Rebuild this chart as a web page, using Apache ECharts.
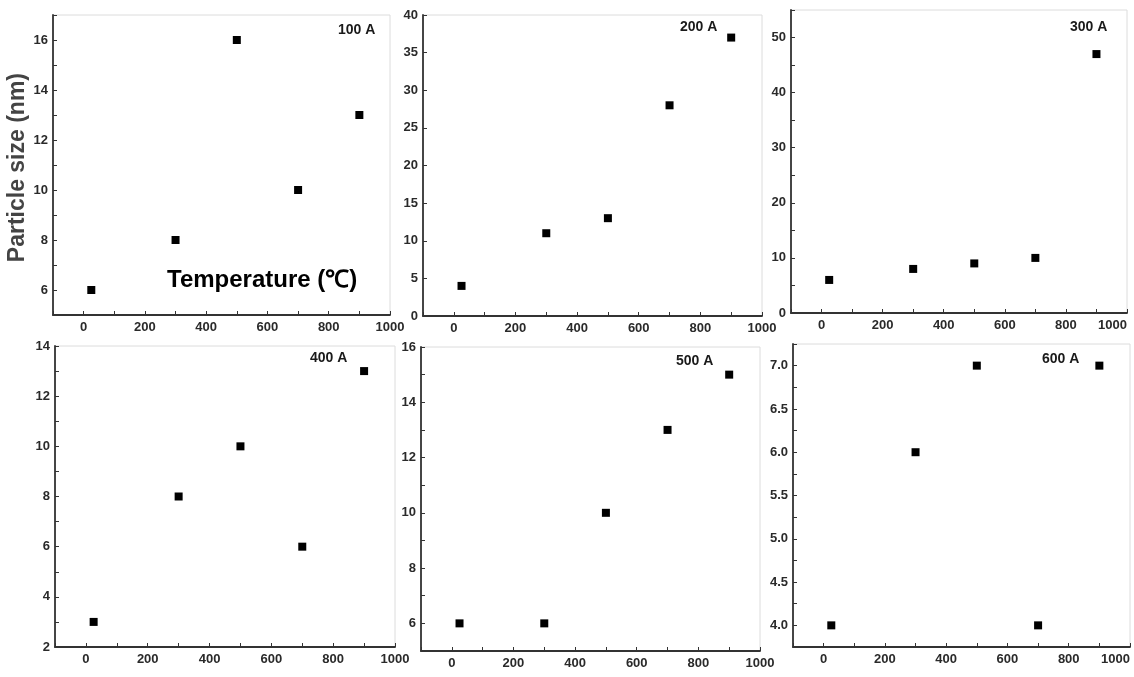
<!DOCTYPE html>
<html>
<head>
<meta charset="utf-8">
<script src="https://cdn.jsdelivr.net/npm/echarts@6/dist/echarts.min.js"></script>
<style>
  html, body { margin: 0; padding: 0; background: #fff; }
  #chart { width: 1134px; height: 677px; }
</style>
</head>
<body>
<div id="chart"></div>
<script>
// temperatures (°C) shared by all panels
var temps = [25, 300, 500, 700, 900];
// particle size (nm) for each arc current
var size100 = [6, 8, 16, 10, 13];
var size200 = [4, 11, 13, 28, 37];
var size300 = [6, 8, 9, 10, 47];
var size400 = [3, 8, 10, 6, 13];
var size500 = [6, 6, 10, 13, 15];
var size600 = [4, 6, 7, 4, 7];
var panelNames = ['100 A', '200 A', '300 A', '400 A', '500 A', '600 A'];

var chart = echarts.init(document.getElementById('chart'), null, { renderer: 'canvas' });

// layout of each panel (pixel boxes), its y axis and where its name sits
var panels = [
  { data: size100, box: [53, 15, 337, 300], tag: [338, 23], y: { min: 5, max: 17, interval: 1, base: 6, step: 2, digits: 0 } },
  { data: size200, box: [423, 15, 339, 301], tag: [680, 20], y: { min: 0, max: 40, interval: 5, base: 0, step: 5, digits: 0 } },
  { data: size300, box: [791, 10, 336, 303], tag: [1070, 20], edge: true, y: { min: 0, max: 55, interval: 5, base: 0, step: 10, digits: 0 } },
  { data: size400, box: [55, 346, 340, 301], tag: [310, 351], y: { min: 2, max: 14, interval: 1, base: 2, step: 2, digits: 0 } },
  { data: size500, box: [421, 347, 339, 304], tag: [676, 354], y: { min: 5, max: 16, interval: 1, base: 6, step: 2, digits: 0 } },
  { data: size600, box: [793, 344, 337, 303], tag: [1042, 352], edge: true, y: { min: 3.75, max: 7.25, interval: 0.25, base: 4, step: 0.5, digits: 1 } }
];

var axisColor = '#333';
var labelStyle = { color: '#2a2a2a', fontFamily: 'Liberation Sans', fontWeight: 'bold', fontSize: 13 };

var grids = [], xAxes = [], yAxes = [], series = [], graphics = [];

panels.forEach(function (p, i) {
  grids.push({
    left: p.box[0], top: p.box[1], width: p.box[2], height: p.box[3],
    containLabel: false, outerBoundsMode: 'none',
    show: true, borderColor: '#dcdcdc', borderWidth: 1, backgroundColor: 'transparent'
  });
  var xLabel = Object.assign({
    margin: 6, interval: 0, showMinLabel: true, showMaxLabel: true, hideOverlap: false,
    formatter: function (v) { return (v >= 0 && v % 200 === 0) ? String(v) : ''; }
  }, labelStyle);
  if (p.edge) xLabel.alignMaxLabel = 'right';
  xAxes.push({
    gridIndex: i, type: 'value', min: -100, max: 1000, interval: 100,
    splitLine: { show: false },
    axisLine: { onZero: false, lineStyle: { color: axisColor, width: 1.8 } },
    axisTick: { inside: true, length: 4, lineStyle: { color: axisColor } },
    axisLabel: xLabel
  });
  var ya = p.y;
  yAxes.push({
    gridIndex: i, type: 'value', min: ya.min, max: ya.max, interval: ya.interval,
    splitLine: { show: false },
    axisLine: { onZero: false, lineStyle: { color: axisColor, width: 1.8 } },
    axisTick: { inside: true, length: 4, lineStyle: { color: axisColor } },
    axisLabel: Object.assign({
      margin: 5, interval: 0, showMinLabel: true, showMaxLabel: true, hideOverlap: false,
      formatter: function (v) {
        var k = Math.round((v - ya.base) / ya.step);
        if (Math.abs(v - ya.base - k * ya.step) > 1e-6) return '';
        return v.toFixed(ya.digits);
      }
    }, labelStyle)
  });
  series.push({
    type: 'scatter', xAxisIndex: i, yAxisIndex: i,
    symbol: 'rect', symbolSize: 8,
    itemStyle: { color: '#000', opacity: 1 },
    data: temps.map(function (t, j) { return [t, p.data[j]]; })
  });
  graphics.push({
    type: 'text', left: p.tag[0], top: p.tag[1],
    style: { text: panelNames[i], fill: '#1a1a1a', font: 'bold 14px "Liberation Sans"' }
  });
});

graphics.push({
  type: 'text', left: 6, top: 73, rotation: Math.PI / 2,
  style: { text: 'Particle size (nm)', fill: '#444', font: 'bold 23px "Liberation Sans"' }
});
graphics.push({
  type: 'text', left: 167, top: 268,
  style: { text: 'Temperature (\u2103)', fill: '#000', font: 'bold 24px "Liberation Sans"' }
});

var option = {
  animation: false,
  backgroundColor: '#fff',
  grid: grids,
  xAxis: xAxes,
  yAxis: yAxes,
  series: series,
  graphic: graphics
};

chart.setOption(option);
window.addEventListener('resize', chart.resize);
</script>
</body>
</html>
